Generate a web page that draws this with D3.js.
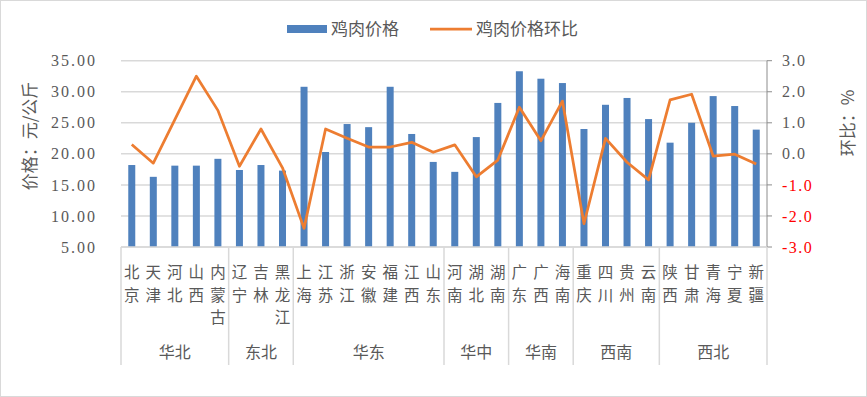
<!DOCTYPE html>
<html><head><meta charset="utf-8">
<script src="https://cdn.jsdelivr.net/npm/d3@7"></script>
<style>
html,body{margin:0;padding:0;background:#fff;}
svg{display:block;}
</style>
</head><body>
<svg id="chart" width="867" height="397"></svg>
<script>
// ---- data ----
const provinces = ["北京","天津","河北","山西","内蒙古","辽宁","吉林","黑龙江","上海","江苏","浙江","安徽","福建","江西","山东","河南","湖北","湖南","广东","广西","海南","重庆","四川","贵州","云南","陕西","甘肃","青海","宁夏","新疆"];
const regions = ["华北","华北","华北","华北","华北","东北","东北","东北","华东","华东","华东","华东","华东","华东","华东","华中","华中","华中","华南","华南","华南","西南","西南","西南","西南","西北","西北","西北","西北","西北"];
const price = [18.2,16.3,18.1,18.1,19.2,17.4,18.2,17.3,30.8,20.3,24.8,24.3,30.8,23.2,18.7,17.1,22.7,28.2,33.3,32.1,31.4,24.0,27.9,29.0,25.6,21.8,25.0,29.3,27.7,23.9];
const mom = [0.3,-0.3,1.1,2.5,1.4,-0.4,0.8,-0.45,-2.4,0.8,0.5,0.22,0.22,0.37,0.05,0.29,-0.74,-0.2,1.5,0.42,1.7,-2.25,0.5,-0.27,-0.84,1.74,1.92,-0.07,-0.01,-0.33];
const leftTicks = [5,10,15,20,25,30,35];
const rightTicks = [-3,-2,-1,0,1,2,3];
const seriesNames = ["鸡肉价格","鸡肉价格环比"];
const leftTitle = "价格：元/公斤";
const rightTitle = "环比：%";

// ---- layout ----
const svg = d3.select("#chart");
const x0 = 121, x1 = 767, yTop = 60.7, yBot = 247;
const textColor = "#595959", gridColor = "#d9d9d9";
const numFont = "'Liberation Serif','Noto Sans CJK SC',serif";
const cjkFont = "'Noto Sans CJK SC','Noto Sans',sans-serif";

svg.append("rect").attr("x",0.5).attr("y",0.5).attr("width",866).attr("height",396)
  .attr("fill","#fff").attr("stroke",gridColor).attr("stroke-width",1);

const x = d3.scaleBand().domain(provinces).range([x0,x1]).padding(0);
const yL = d3.scaleLinear().domain([5,35]).range([yBot,yTop]);
const yR = d3.scaleLinear().domain([-3,3]).range([yBot,yTop]);

// gridlines
svg.append("g").selectAll("line").data(leftTicks).join("line")
  .attr("x1",x0).attr("x2",x1).attr("y1",d=>yL(d)).attr("y2",d=>yL(d))
  .attr("stroke",gridColor).attr("stroke-width",1.5);

// left tick labels
svg.append("g").selectAll("text").data(leftTicks).join("text")
  .attr("x",97).attr("y",d=>yL(d)).attr("dy","0.35em").attr("text-anchor","end")
  .attr("font-family",numFont).attr("font-size",16).attr("letter-spacing","2px")
  .attr("fill",textColor).text(d=>d3.format(".2f")(d));

// right axis line & ticks
const rAxis = svg.append("g");
rAxis.append("line").attr("x1",x1).attr("x2",x1).attr("y1",yTop).attr("y2",yBot)
  .attr("stroke","#8c8c8c").attr("stroke-width",1);
rAxis.selectAll("line.t").data(rightTicks).join("line").attr("class","t")
  .attr("x1",x1).attr("x2",x1+5).attr("y1",d=>yR(d)).attr("y2",d=>yR(d))
  .attr("stroke","#8c8c8c").attr("stroke-width",1);
rAxis.selectAll("text").data(rightTicks).join("text")
  .attr("x",782).attr("y",d=>yR(d)).attr("dy","0.35em").attr("text-anchor","start")
  .attr("font-family",numFont).attr("font-size",16).attr("letter-spacing","1.5px")
  .attr("fill",d=>d<0?"#ff0000":textColor).text(d=>d3.format(".1f")(d).replace("\u2212","-"));

// bars
const bw = 7;
svg.append("g").selectAll("rect").data(provinces).join("rect")
  .attr("x",(d)=>x(d)+x.bandwidth()/2-bw/2).attr("width",bw)
  .attr("y",(d,i)=>yL(price[i])).attr("height",(d,i)=>yBot-yL(price[i]))
  .attr("fill","#4f81bd");

// line
const line = d3.line().x((d,i)=>x(provinces[i])+x.bandwidth()/2).y(d=>yR(d));
svg.append("path").datum(mom).attr("d",line).attr("fill","none")
  .attr("stroke","#ed7d31").attr("stroke-width",2.75).attr("stroke-linejoin","round");

// category axis
const cat = svg.append("g");
cat.append("line").attr("x1",x0).attr("x2",x1).attr("y1",yBot).attr("y2",yBot)
  .attr("stroke",gridColor).attr("stroke-width",1.5);
// group boundaries
const groups = [];
regions.forEach((r,i)=>{
  if(!groups.length || groups[groups.length-1].name!==r) groups.push({name:r,start:i,end:i});
  else groups[groups.length-1].end=i;
});
const bounds = [x0].concat(groups.map(g=>x(provinces[g.end])+x.bandwidth()));
cat.selectAll("line.sep").data(bounds).join("line").attr("class","sep")
  .attr("x1",d=>d).attr("x2",d=>d).attr("y1",yBot).attr("y2",365)
  .attr("stroke",gridColor).attr("stroke-width",1.5);
// province labels (vertical characters)
provinces.forEach(p=>{
  const t = cat.append("text").attr("text-anchor","middle").attr("font-family",cjkFont)
    .attr("font-size",15.5).attr("fill",textColor);
  Array.from(p).forEach((ch,k)=>{
    t.append("tspan").attr("x",x(p)+x.bandwidth()/2).attr("y",273+k*22.5).attr("dy","0.35em").text(ch);
  });
});
// group labels
cat.selectAll("text.grp").data(groups).join("text").attr("class","grp")
  .attr("x",g=>(x(provinces[g.start])+x(provinces[g.end])+x.bandwidth())/2)
  .attr("y",352).attr("dy","0.35em").attr("text-anchor","middle")
  .attr("font-family",cjkFont).attr("font-size",16).attr("fill",textColor).text(g=>g.name);

// axis titles
svg.append("text").attr("transform","translate(30,136) rotate(-90)")
  .attr("text-anchor","middle").attr("dy","0.35em").attr("font-family",cjkFont)
  .attr("font-size",17).attr("fill",textColor).text(leftTitle);
svg.append("text").attr("transform","translate(848,123) rotate(-90)")
  .attr("text-anchor","middle").attr("dy","0.35em").attr("font-family",cjkFont)
  .attr("font-size",17).attr("fill",textColor).text(rightTitle);

// legend
const lg = svg.append("g");
lg.append("rect").attr("x",287).attr("y",25).attr("width",40).attr("height",8).attr("fill","#4f81bd");
lg.append("text").attr("x",331).attr("y",29).attr("dy","0.35em").attr("font-family",cjkFont)
  .attr("font-size",17).attr("fill",textColor).text(seriesNames[0]);
lg.append("line").attr("x1",430).attr("x2",472).attr("y1",29).attr("y2",29)
  .attr("stroke","#ed7d31").attr("stroke-width",2.75);
lg.append("text").attr("x",476).attr("y",29).attr("dy","0.35em").attr("font-family",cjkFont)
  .attr("font-size",17).attr("fill",textColor).text(seriesNames[1]);
</script>
</body></html>
